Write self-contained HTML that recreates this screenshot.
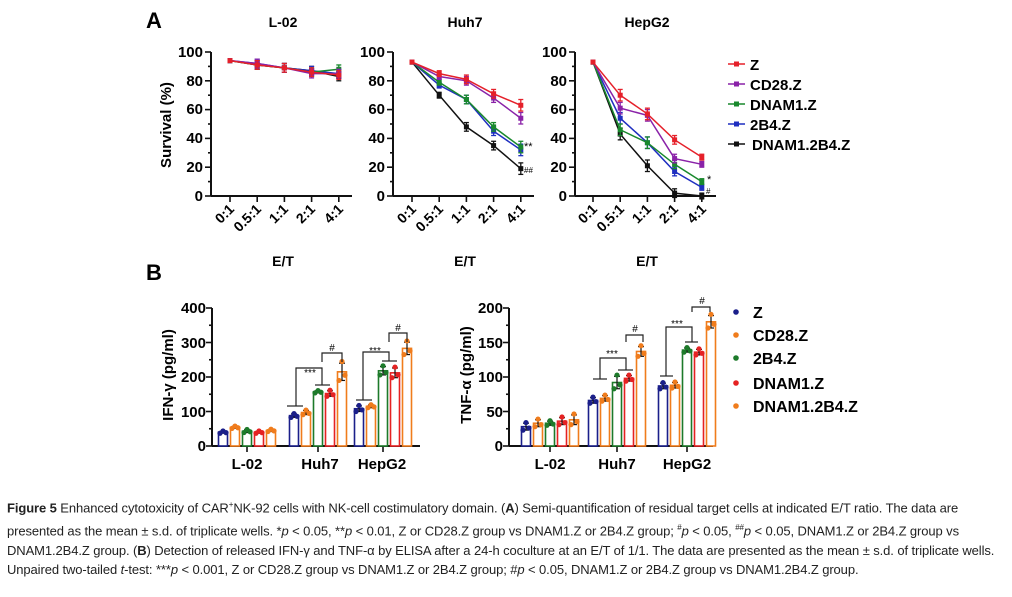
<!DOCTYPE html>
<html><head><meta charset="utf-8"><style>
body{margin:0;background:#fff;width:1012px;height:597px;overflow:hidden;font-family:"Liberation Sans",sans-serif}
svg{position:absolute;left:0;top:0}
.cap{position:absolute;left:7px;top:495px;width:1000px;font-family:"Liberation Sans Narrow","Liberation Sans",sans-serif;font-size:13px;line-height:19.6px;color:#222;letter-spacing:-0.1px}
</style></head><body>
<svg id="s" width="1012" height="597" font-family="Liberation Sans, sans-serif" font-weight="bold">
<text x="146" y="28" font-size="22">A</text>
<text x="146" y="280" font-size="22">B</text>
<g font-size="14" text-anchor="middle">
<text x="283" y="27">L-02</text><text x="465" y="27">Huh7</text><text x="647" y="27">HepG2</text>
<text x="283" y="266">E/T</text><text x="465" y="266">E/T</text><text x="647" y="266">E/T</text>
</g>
<text transform="translate(171,125) rotate(-90)" font-size="15" text-anchor="middle">Survival (%)</text>
<g font-size="15">
<text x="750" y="70">Z</text><text x="750" y="90">CD28.Z</text><text x="750" y="110">DNAM1.Z</text><text x="750" y="130">2B4.Z</text><text x="752" y="150">DNAM1.2B4.Z</text>
</g>
<g font-size="11" font-weight="normal">
<text x="524" y="150">**</text><text x="524" y="173" font-size="8">##</text>
<text x="707" y="183">*</text><text x="706" y="194" font-size="8">#</text>
</g>
<text transform="translate(173,375) rotate(-90)" font-size="15" text-anchor="middle">IFN-γ (pg/ml)</text>
<text transform="translate(471,375) rotate(-90)" font-size="15" text-anchor="middle">TNF-α (pg/ml)</text>
<g font-size="15" text-anchor="end">
<text x="206" y="313">400</text><text x="206" y="348">300</text><text x="206" y="382">200</text><text x="206" y="417">100</text><text x="206" y="451">0</text>
<text x="503" y="313">200</text><text x="503" y="348">150</text><text x="503" y="382">100</text><text x="503" y="417">50</text><text x="503" y="451">0</text>
</g>
<g font-size="15" text-anchor="middle">
<text x="247" y="469">L-02</text><text x="320" y="469">Huh7</text><text x="382" y="469">HepG2</text>
<text x="550" y="469">L-02</text><text x="617" y="469">Huh7</text><text x="687" y="469">HepG2</text>
</g>
<g font-size="16">
<text x="753" y="318">Z</text><text x="753" y="341">CD28.Z</text><text x="753" y="364">2B4.Z</text><text x="753" y="389">DNAM1.Z</text><text x="753" y="412">DNAM1.2B4.Z</text>
</g>
<g font-size="10" font-weight="normal" text-anchor="middle">
<text x="310" y="376">***</text><text x="332" y="351">#</text>
<text x="375" y="354">***</text><text x="398" y="331">#</text>
<text x="612" y="357">***</text><text x="635" y="332">#</text>
<text x="677" y="327">***</text><text x="702" y="304">#</text>
</g>
<g font-size="15" text-anchor="end">
<text x="203" y="201">0</text><text x="203" y="172">20</text><text x="203" y="143">40</text><text x="203" y="114">60</text><text x="203" y="86">80</text><text x="203" y="57">100</text>
<text x="385" y="201">0</text><text x="385" y="172">20</text><text x="385" y="143">40</text><text x="385" y="114">60</text><text x="385" y="86">80</text><text x="385" y="57">100</text>
<text x="567" y="201">0</text><text x="567" y="172">20</text><text x="567" y="143">40</text><text x="567" y="114">60</text><text x="567" y="86">80</text><text x="567" y="57">100</text>
</g>
<g font-size="14" text-anchor="end">
<text transform="translate(235,210) rotate(-45)">0:1</text><text transform="translate(262,210) rotate(-45)">0.5:1</text><text transform="translate(289,210) rotate(-45)">1:1</text><text transform="translate(316,210) rotate(-45)">2:1</text><text transform="translate(344,210) rotate(-45)">4:1</text>
<text transform="translate(417,210) rotate(-45)">0:1</text><text transform="translate(444,210) rotate(-45)">0.5:1</text><text transform="translate(471,210) rotate(-45)">1:1</text><text transform="translate(498,210) rotate(-45)">2:1</text><text transform="translate(526,210) rotate(-45)">4:1</text>
<text transform="translate(598,210) rotate(-45)">0:1</text><text transform="translate(625,210) rotate(-45)">0.5:1</text><text transform="translate(652,210) rotate(-45)">1:1</text><text transform="translate(679,210) rotate(-45)">2:1</text><text transform="translate(707,210) rotate(-45)">4:1</text>
</g>
</svg>
<div class="cap"><b>Figure 5</b> Enhanced cytotoxicity of CAR<sup style="font-size:8px">+</sup>NK-92 cells with NK-cell costimulatory domain. (<b>A</b>) Semi-quantification of residual target cells at indicated E/T ratio. The data are presented as the mean ± s.d. of triplicate wells. *<i>p</i> &lt; 0.05, **<i>p</i> &lt; 0.01, Z or CD28.Z group vs DNAM1.Z or 2B4.Z group; <sup style="font-size:8px">#</sup><i>p</i> &lt; 0.05, <sup style="font-size:8px">##</sup><i>p</i> &lt; 0.05, DNAM1.Z or 2B4.Z group vs DNAM1.2B4.Z group. (<b>B</b>) Detection of released IFN-γ and TNF-α by ELISA after a 24-h coculture at an E/T of 1/1. The data are presented as the mean ± s.d. of triplicate wells. Unpaired two-tailed <i>t</i>-test: ***<i>p</i> &lt; 0.001, Z or CD28.Z group vs DNAM1.Z or 2B4.Z group; #<i>p</i> &lt; 0.05, DNAM1.Z or 2B4.Z group vs DNAM1.2B4.Z group.</div>
<script>
const s=document.getElementById('s');const NS='http://www.w3.org/2000/svg';
function el(t,a){const e=document.createElementNS(NS,t);for(const k in a)e.setAttribute(k,a[k]);s.appendChild(e);return e;}
function ln(x1,y1,x2,y2,c,w){el('line',{x1,y1,x2,y2,stroke:c||'#111','stroke-width':w||1.3});}
const C={Z:'#e5202a',CD:'#8a22a8',DN:'#19892d',B4:'#1f2fc0',DB:'#111'};
const axA=[[211,230],[393,412],[575,593]];
const ya=v=>196-v*1.44;
const data=[
 {Z:[94,91,89,86,84],CD:[94,92,89,85,85],DN:[94,91,89,86,88],B4:[94,92,89,87,85],DB:[94,91,89,87,83]},
 {Z:[93,85,81,71,63],CD:[93,83,80,68,54],DN:[93,79,67,48,34],B4:[93,77,67,45,32],DB:[93,70,48,35,19]},
 {Z:[93,70,57,39,27],CD:[93,61,56,26,22],DN:[93,46,37,22,10],B4:[93,54,37,17,6],DB:[93,43,21,2,0]}];
const err=[[2,3,3,3,3],[1,2,3,3,4],[1,4,4,3,2]];
axA.forEach(([ax,x0],p)=>{
 ln(ax,196,ax+141,196,'#111',2);ln(ax,52,ax,196,'#111',2);
 for(let v=0;v<=100;v+=10){ln(ax-(v%20?3:6),ya(v),ax,ya(v),'#111',1.6);}
 for(let i=0;i<5;i++){const x=x0+i*27.2;ln(x,196,x,202,'#111',1.6);}
 ['DB','B4','DN','CD','Z'].forEach(k=>{const d=data[p][k];
  el('polyline',{points:d.map((v,i)=>`${x0+i*27.2},${ya(v)}`).join(' '),fill:'none',stroke:C[k],'stroke-width':1.5});
  d.forEach((v,i)=>{const x=x0+i*27.2,e=err[p][i]*1.44;if(i>0){ln(x,ya(v)-e,x,ya(v)+e,C[k],1.3);ln(x-2.5,ya(v)-e,x+2.5,ya(v)-e,C[k],1.3);ln(x-2.5,ya(v)+e,x+2.5,ya(v)+e,C[k],1.3);}
   el('rect',{x:x-2.5,y:ya(v)-2.5,width:5,height:5,fill:C[k]});});
 });
});
['Z','CD','DN','B4','DB'].forEach((k,i)=>{const y=64+i*20;ln(728,y,745,y,C[k],1.6);el('rect',{x:734,y:y-2.5,width:5,height:5,fill:C[k]});});
const BC=['#1b1f8a','#f07c1c','#1d7a2a','#e52222','#f07c1c'];
function bars(ax,axEnd,sc,groups,vals,errs){
 const yb=v=>446-v*sc;
 ln(ax,446,axEnd,446,'#111',2);ln(ax,308,ax,446,'#111',2);
 groups.forEach((g,gi)=>{ln(g,446,g,452,'#111',1.6);
  vals[gi].forEach((v,i)=>{const x=g-24+i*12;const c=BC[i];
   el('rect',{x:x-4.5,y:yb(v),width:9,height:446-yb(v),fill:'#fff',stroke:c,'stroke-width':1.6});
   const e=errs[gi][i]*sc;ln(x,yb(v)-e,x,yb(v)+e,'#111',1.2);ln(x-3,yb(v)-e,x+3,yb(v)-e,'#111',1.2);ln(x-3,yb(v)+e,x+3,yb(v)+e,'#111',1.2);
   [-3,0,3].forEach((o,j)=>el('circle',{cx:x+o,cy:yb(v+[-1,1.2,-0.4][j]*errs[gi][i]),r:2.6,fill:c}));
  });});
}
bars(212,420,0.345,[247,318,383],[[40,54,43,40,45],[88,97,157,152,215],[108,115,218,212,283]],[[3,3,4,3,3],[5,6,3,8,25],[8,4,12,14,18]]);
bars(509,713,0.69,[550,617,687],[[28,33,33,36,38],[66,69,92,98,137],[87,88,139,136,180]],[[5,5,3,5,7],[4,4,9,4,7],[4,4,3,4,9]]);
for(let v=0;v<=400;v+=50)ln(v%100?209:206,446-v*0.345,212,446-v*0.345,'#111',1.6);
for(let v=0;v<=200;v+=25)ln(v%50?506:503,446-v*0.69,509,446-v*0.69,'#111',1.6);
function br(pts){el('polyline',{points:pts,fill:'none',stroke:'#222','stroke-width':1.2});}
ln(287,406,303,406,'#222',1.2);br('296,406 296,368 322,368 322,385');ln(315,385,330,385,'#222',1.2);br('322,362 322,353 342,353 342,362');
ln(356,400,372,400,'#222',1.2);br('363,400 363,352 389,352 389,361');ln(382,361,397,361,'#222',1.2);br('389,342 389,333 407,333 407,342');
ln(593,379,607,379,'#222',1.2);br('600,379 600,358 626,358 626,370');ln(618,370,633,370,'#222',1.2);br('626,342 626,335 643,335 643,342');
ln(660,376,673,376,'#222',1.2);br('666,376 666,327 692,327 692,342');ln(685,342,698,342,'#222',1.2);br('692,312 692,307 710,307 710,312');
[312,335,358,383,406].forEach((y,i)=>el('circle',{cx:736,cy:y,r:2.8,fill:BC[i]}));
</script>
</body></html>
